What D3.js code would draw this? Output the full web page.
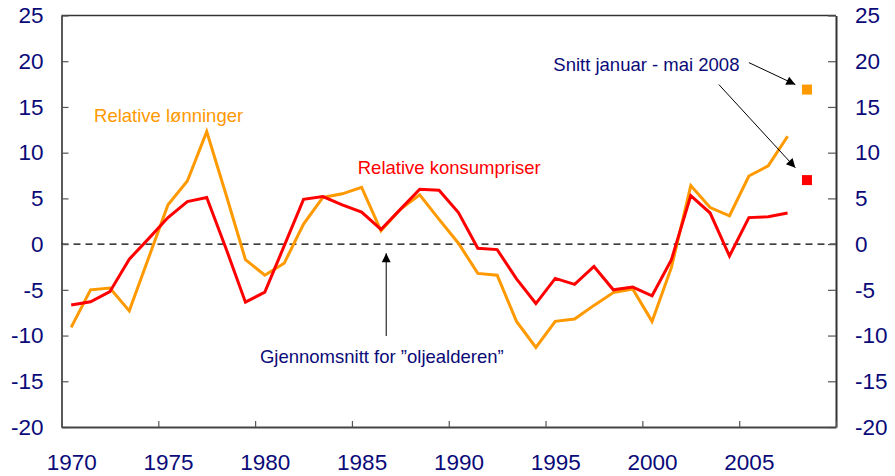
<!DOCTYPE html>
<html>
<head>
<meta charset="utf-8">
<script src="https://cdn.jsdelivr.net/npm/d3@7"></script>
<style>
  body { margin: 0; background: #fff; }
  svg { display: block; font-family: "Liberation Sans", Arial, sans-serif; }
</style>
</head>
<body>
<div class="outer-container"></div>
<script>
// aarlige tall, 1970-2007
const years = [1970, 1971, 1972, 1973, 1974, 1975, 1976, 1977, 1978, 1979,
  1980, 1981, 1982, 1983, 1984, 1985, 1986, 1987, 1988, 1989,
  1990, 1991, 1992, 1993, 1994, 1995, 1996, 1997, 1998, 1999,
  2000, 2001, 2002, 2003, 2004, 2005, 2006, 2007]

const relWages = [-9.1, -5.0, -4.8, -7.3, -1.5, 4.3, 6.9, 12.3, 5.4, -1.7,
  -3.4, -2.1, 2.2, 5.1, 5.5, 6.2, 1.45, 3.8, 5.4, 2.7,
  0.1, -3.2, -3.4, -8.45, -11.3, -8.45, -8.2, -6.7, -5.3, -4.9,
  -8.45, -2.55, 6.4, 4.0, 3.1, 7.45, 8.55, 11.8]

const relPrices = [-6.65, -6.3, -5.2, -1.65, 0.6, 2.9, 4.65, 5.1, -0.5, -6.35,
  -5.25, -0.2, 4.9, 5.2, 4.3, 3.5, 1.6, 3.8, 6.0, 5.9,
  3.45, -0.45, -0.6, -3.8, -6.5, -3.75, -4.4, -2.45, -5.0, -4.7,
  -5.65, -1.7, 5.3, 3.4, -1.3, 2.9, 3.0, 3.4]

// snitt januar - mai 2008
const avg2008Year = 2008
const avg2008Wages = 16.9
const avg2008Prices = 7.0

const yTicks = [-20, -15, -10, -5, 0, 5, 10, 15, 20, 25]
const xTicks = [1970, 1975, 1980, 1985, 1990, 1995, 2000, 2005, 2010]
const xLabels = [1970, 1975, 1980, 1985, 1990, 1995, 2000, 2005]

const orange = '#ff9900'
const red = '#ff0000'
const navy = '#0a0a78'

const w = 895
const h = 476
const plot = { left: 61.5, right: 836, top: 15.5, bottom: 427 }

const xScale = d3.scaleLinear()
  .domain([1970, 2010])
  .range([plot.left, plot.right])

const yScale = d3.scaleLinear()
  .domain([-20, 25])
  .range([plot.bottom, plot.top])

const svg = d3.select('.outer-container')
  .append('svg')
  .attr('width', w)
  .attr('height', h)

svg.append('rect')
  .attr('width', w)
  .attr('height', h)
  .attr('fill', '#fff')

// ramme
svg.append('line')
  .attr('x1', xScale(1970)).attr('x2', xScale(2010))
  .attr('y1', yScale(25)).attr('y2', yScale(25))
  .attr('stroke', '#333').attr('stroke-width', 1.5)

// nullinje
svg.append('line')
  .attr('x1', xScale(1970)).attr('x2', xScale(2010))
  .attr('y1', yScale(0)).attr('y2', yScale(0))
  .attr('stroke', '#000')
  .attr('stroke-width', 1.3)
  .attr('stroke-dasharray', '7,5')

const plainNum = d => String(d)

const styleAxis = (g, col) => {
  g.select('.domain').attr('stroke', col)
  g.selectAll('.tick line').attr('stroke', '#555').attr('stroke-width', 1.2)
  g.selectAll('text')
    .attr('fill', navy)
    .attr('font-size', '22.5px')
    .attr('font-family', '"Liberation Sans", Arial, sans-serif')
}

const yLeft = svg.append('g')
  .attr('transform', 'translate(' + xScale(1970) + ',0)')
  .call(d3.axisLeft(yScale).tickValues(yTicks).tickSizeInner(-7).tickSizeOuter(0).tickPadding(18).tickFormat(plainNum))
yLeft.call(styleAxis, '#000')
yLeft.select('.domain').attr('stroke-width', 1.3)

const yRight = svg.append('g')
  .attr('transform', 'translate(' + xScale(2010) + ',0)')
  .call(d3.axisRight(yScale).tickValues(yTicks).tickSizeInner(-8).tickSizeOuter(0).tickPadding(19).tickFormat(plainNum))
yRight.call(styleAxis, '#333')
yRight.select('.domain').attr('stroke-width', 2)

const xAxis = svg.append('g')
  .attr('transform', 'translate(0,' + yScale(-20) + ')')
  .call(d3.axisBottom(xScale).tickValues(xTicks).tickSizeInner(-6).tickSizeOuter(0).tickFormat(''))
xAxis.call(styleAxis, '#444')
xAxis.select('.domain').attr('stroke-width', 2.2)

// aarstall midt i aaret
const halfYear = xScale(1970.5) - xScale(1970)
const xLab = svg.append('g')
  .attr('transform', 'translate(' + halfYear + ',' + yScale(-20) + ')')
  .call(d3.axisBottom(xScale).tickValues(xLabels).tickSize(0).tickPadding(27).tickFormat(plainNum))
xLab.call(styleAxis, 'none')
xLab.select('.domain').remove()

const line = d3.line()
  .x((d, i) => xScale(years[i] + 0.5))
  .y(d => yScale(d))

svg.append('path')
  .datum(relWages)
  .attr('fill', 'none')
  .attr('stroke', orange)
  .attr('stroke-width', 3)
  .attr('d', line)

svg.append('path')
  .datum(relPrices)
  .attr('fill', 'none')
  .attr('stroke', red)
  .attr('stroke-width', 3)
  .attr('d', line)

// snitt 2008 som firkanter
const sq = 10
svg.selectAll('rect.avg')
  .data([[avg2008Wages, orange], [avg2008Prices, red]])
  .enter()
  .append('rect')
  .attr('class', 'avg')
  .attr('x', xScale(avg2008Year + 0.5) - sq / 2)
  .attr('y', d => yScale(d[0]) - sq / 2)
  .attr('width', sq)
  .attr('height', sq)
  .attr('fill', d => d[1])

// piler
svg.append('defs')
  .append('marker')
  .attr('id', 'arrow')
  .attr('viewBox', '0 0 10 10')
  .attr('refX', 10)
  .attr('refY', 5)
  .attr('markerUnits', 'userSpaceOnUse')
  .attr('markerWidth', 11)
  .attr('markerHeight', 9)
  .attr('orient', 'auto')
  .append('path')
  .attr('d', 'M0,0L10,5L0,10Z')
  .attr('fill', '#000')

const arrows = [
  [[2005.5, 19.85], [2007.9, 17.45]],
  [[2003.95, 17.45], [2007.9, 8.35]],
  [[1986.77, -10.05], [1986.77, -1.0]]
]

svg.selectAll('line.arrow')
  .data(arrows)
  .enter()
  .append('line')
  .attr('class', 'arrow')
  .attr('x1', d => xScale(d[0][0]))
  .attr('y1', d => yScale(d[0][1]))
  .attr('x2', d => xScale(d[1][0]))
  .attr('y2', d => yScale(d[1][1]))
  .attr('stroke', '#000')
  .attr('stroke-width', 1)
  .attr('marker-end', 'url(#arrow)')

const notes = [
  { text: 'Relative lønninger', at: [1971.68, 13.3], color: orange },
  { text: 'Relative konsumpriser', at: [1985.3, 7.65], color: red },
  { text: 'Snitt januar - mai 2008', at: [1995.4, 18.95], color: navy },
  { text: 'Gjennomsnitt for \u201doljealderen\u201d', at: [1980.25, -12.95], color: navy }
]

svg.selectAll('text.note')
  .data(notes)
  .enter()
  .append('text')
  .attr('class', 'note')
  .attr('x', d => xScale(d.at[0]))
  .attr('y', d => yScale(d.at[1]))
  .attr('font-size', '18.5px')
  .attr('fill', d => d.color)
  .text(d => d.text)
</script>
</body>
</html>
